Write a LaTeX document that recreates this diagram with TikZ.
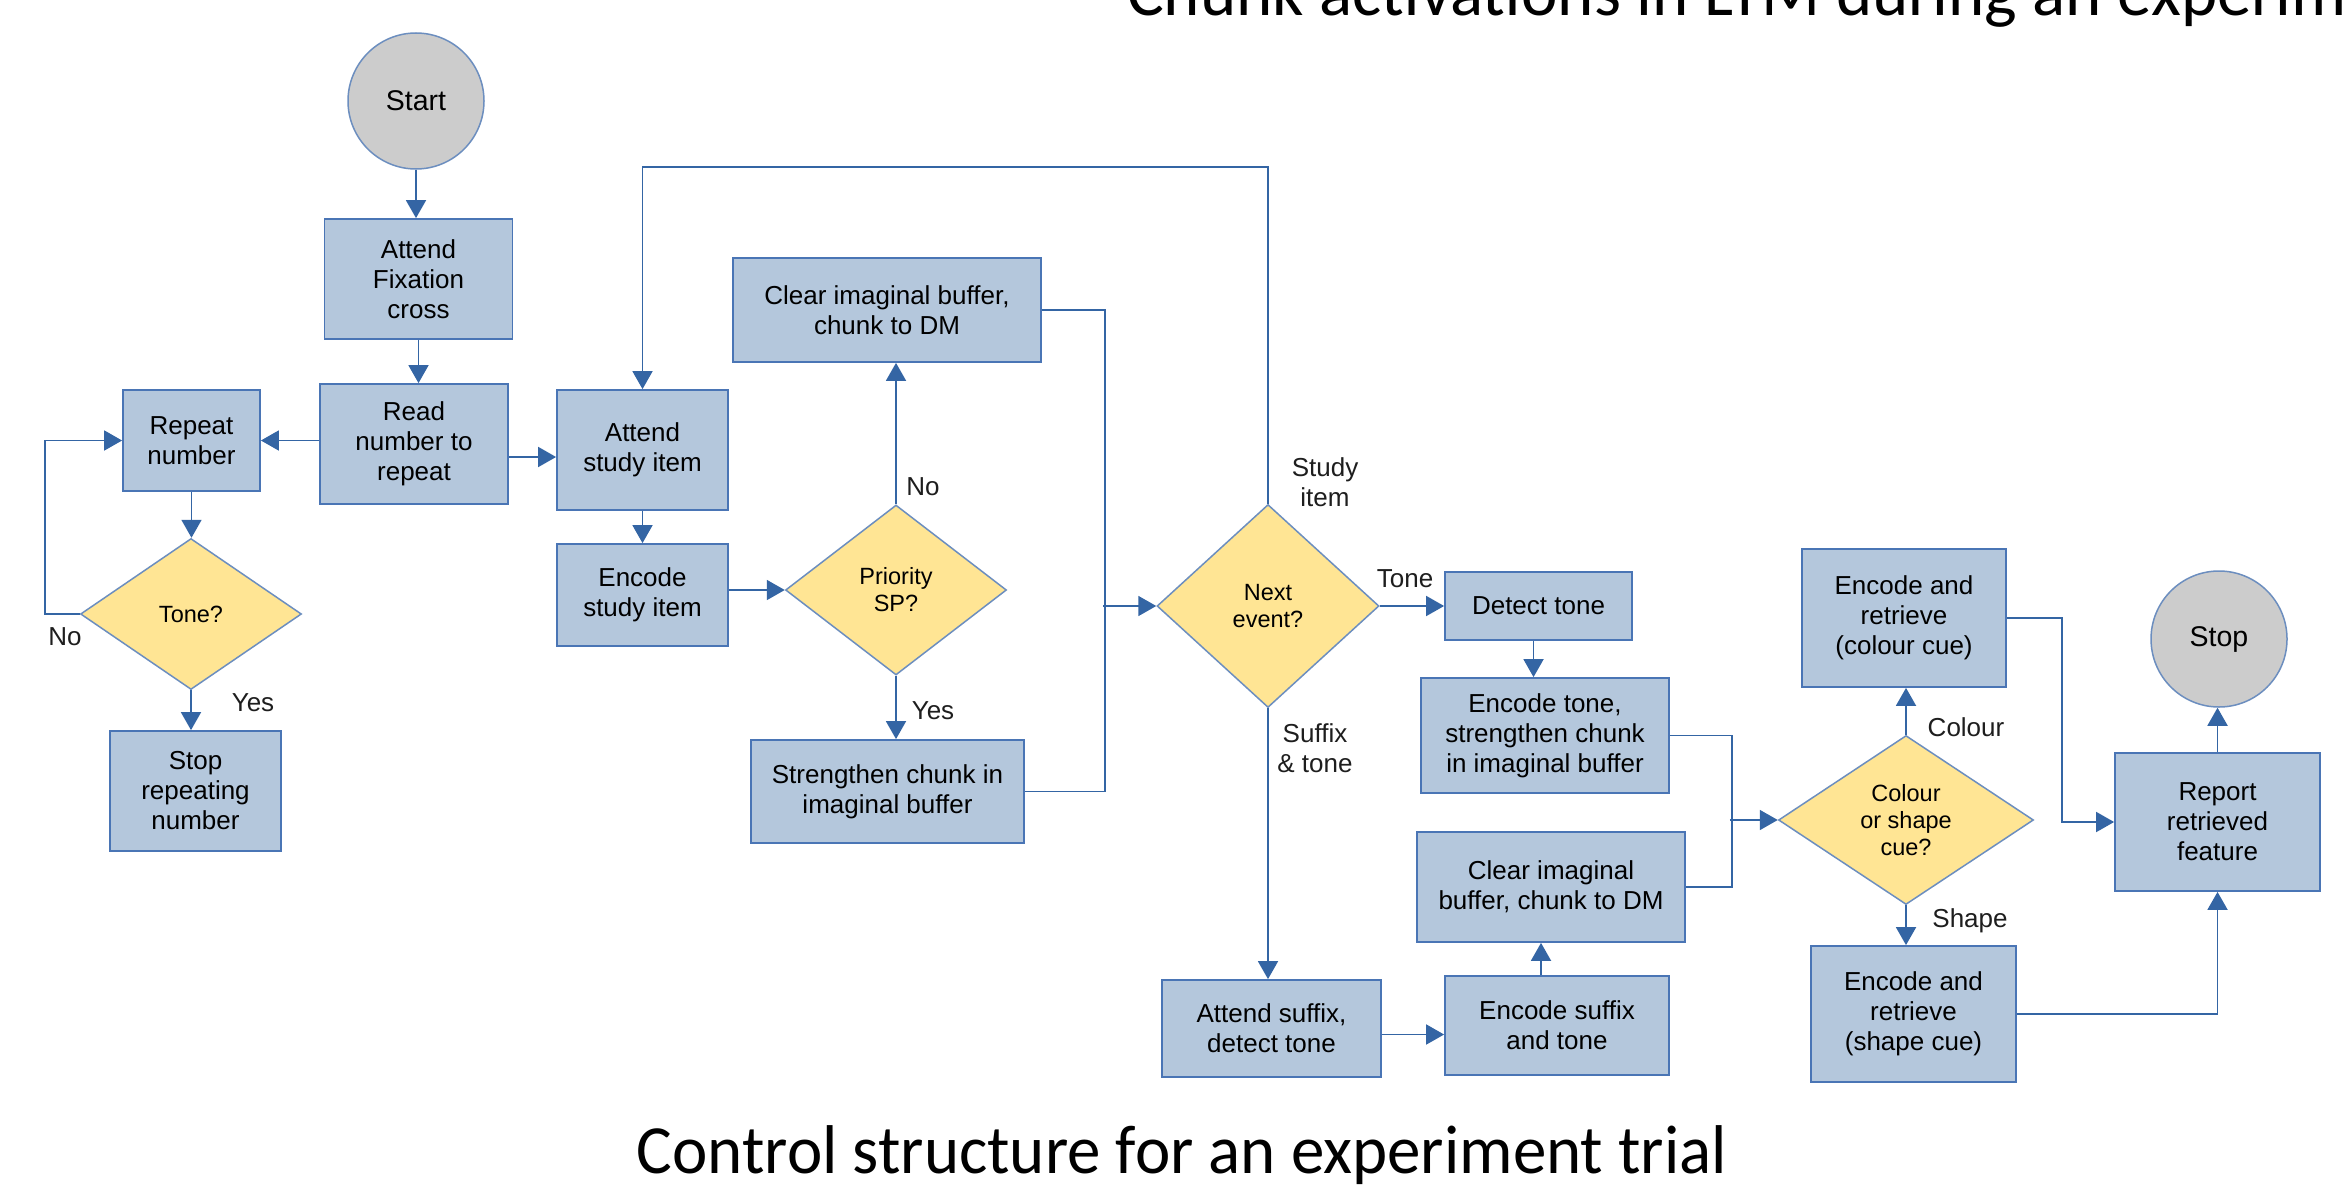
\documentclass[tikz,border=0pt]{standalone}
\usepackage{fontspec}
\setmainfont{Liberation Sans}
\newfontfamily\capfont{Carlito}
\usetikzlibrary{shapes.geometric,arrows.meta,calc}
\definecolor{boxfill}{RGB}{180,199,220}
\definecolor{boxline}{RGB}{74,117,181}
\definecolor{dfill}{RGB}{255,229,148}
\definecolor{dline}{RGB}{108,142,191}
\definecolor{cfill}{RGB}{204,204,204}
\definecolor{linkc}{RGB}{52,101,164}
\definecolor{lbl}{RGB}{30,30,30}
\begin{document}
\begin{tikzpicture}[x=1pt,y=-1pt,
 box/.style={draw=boxline,fill=boxfill,line width=1.8pt,rectangle,inner sep=0pt,align=center,font=\fontsize{26}{30}\selectfont},
 dec/.style={draw=dline,fill=dfill,line width=1.5pt,diamond,inner sep=0pt,align=center,font=\fontsize{23.5}{27}\selectfont},
 term/.style={draw=dline,fill=cfill,line width=1.5pt,circle,minimum size=136pt,inner sep=0pt,font=\fontsize{28.5}{32}\selectfont},
 link/.style={draw=linkc,line width=1.8pt},
 arr/.style={link,-{Triangle[length=18pt,width=20pt]}},
 lab/.style={font=\fontsize{26}{30}\selectfont,align=center,text=lbl,inner sep=0pt},
 ttl/.style={font=\capfont\fontsize{69}{69}\selectfont,inner sep=0pt}]
\clip (0,0) rectangle (2349,1188);
\fill[white] (0,0) rectangle (2349,1188);

% nodes
\node[term] (start) at (416,101) {Start};
\node[box,minimum width=188pt,minimum height=120pt] (fix) at (418.5,279) {Attend\\Fixation\\cross};
\node[box,minimum width=188pt,minimum height=120pt] (read) at (414,444) {Read\\number to\\repeat};
\node[box,minimum width=137pt,minimum height=101pt] (rep) at (191.5,440.5) {Repeat\\number};
\node[dec,minimum width=221pt,minimum height=151pt,aspect=1.46] (tone) at (191,614) {Tone?};
\node[box,minimum width=171pt,minimum height=120pt] (stoprep) at (195.5,791) {Stop\\repeating\\number};
\node[box,minimum width=171pt,minimum height=120pt] (att) at (642.5,450) {Attend\\study item};
\node[box,minimum width=171pt,minimum height=102pt] (enc) at (642.5,595) {Encode\\study item};
\node[dec,minimum width=221pt,minimum height=170pt,aspect=1.3] (prio) at (896,590) {Priority\\SP?};
\node[box,minimum width=308pt,minimum height=104pt] (clr1) at (887,310) {Clear imaginal buffer,\\chunk to DM};
\node[box,minimum width=273pt,minimum height=103pt] (str) at (887.5,791.5) {Strengthen chunk in\\imaginal buffer};
\node[dec,minimum width=222pt,minimum height=203pt,aspect=1.09] (next) at (1268,606) {Next\\event?};
\node[box,minimum width=187pt,minimum height=68pt] (det) at (1538.5,606) {Detect tone};
\node[box,minimum width=248pt,minimum height=115pt] (enct) at (1545,735.5) {Encode tone,\\strengthen chunk\\in imaginal buffer};
\node[box,minimum width=268pt,minimum height=110pt] (clr2) at (1551,887) {Clear imaginal\\buffer, chunk to DM};
\node[box,minimum width=224pt,minimum height=99pt] (encs) at (1557,1025.5) {Encode suffix\\and tone};
\node[box,minimum width=219pt,minimum height=97pt] (atts) at (1271.5,1028.5) {Attend suffix,\\detect tone};
\node[dec,minimum width=255pt,minimum height=169pt,aspect=1.5] (cq) at (1906,820) {Colour\\or shape\\cue?};
\node[box,minimum width=204pt,minimum height=138pt] (col) at (1904,618) {Encode and\\retrieve\\(colour cue)};
\node[box,minimum width=205pt,minimum height=136pt] (shp) at (1913.5,1014) {Encode and\\retrieve\\(shape cue)};
\node[box,minimum width=205pt,minimum height=138pt] (rpt) at (2217.5,822) {Report\\retrieved\\feature};
\node[term] (stop) at (2219,639) {Stop};

% labels
\node[lab] (lno1) at (65,637) {No};
\node[lab] (lyes1) at (253,703) {Yes};
\node[lab] (lno2) at (923,487) {No};
\node[lab] (lyes2) at (933,711) {Yes};
\node[lab] (lstudy) at (1325,482) {Study\\item};
\node[lab] (ltone) at (1405,579) {Tone};
\node[lab] (lsuf) at (1315,748) {Suffix\\\& tone};
\node[lab] (lcol) at (1966,727) {Colour};
\node[lab] (lshp) at (1970,921) {Shape};

% connectors
\draw[arr] (start.south) -- (start.south |- fix.north);
\draw[arr] (fix.south) -- (fix.south |- read.north);
\draw[arr] (read.west |- rep.east) -- (rep.east);
\path (read.east) ++(0,13) coordinate (r1);
\draw[arr] (r1) -- (att.west |- r1);
\draw[arr] (rep.south) -- (rep.south |- tone.north);
\draw[arr] (tone.south) -- (tone.south |- stoprep.north);
\draw[arr] (tone.west) -- ++(-35,0) |- (rep.west);
\draw[arr] (att.south) -- (att.south |- enc.north);
\draw[arr] (enc.east |- prio.west) -- (prio.west);
\draw[arr] (prio.north) -- (prio.north |- clr1.south);
\draw[arr] (prio.south) -- (prio.south |- str.north);
\draw[link] (clr1.east) -- ++(63,0) |- (str.east);
\path (next.west) ++(-53,0) coordinate (b1);
\draw[arr] (b1) -- (next.west);
\draw[arr] (next.north) -- ++(0,-337) -| (att.north);
\draw[arr] (next.east) -- (det.west);
\draw[arr] (next.south) -- (next.south |- atts.north);
\path (det.south) ++(-5,0) coordinate (d1);
\draw[arr] (d1) -- (d1 |- enct.north);
\path (atts.east) ++(0,6) coordinate (a1);
\draw[arr] (a1) -- (a1 -| encs.west);
\path (encs.north) ++(-16,0) coordinate (e1);
\draw[arr] (e1) -- (e1 |- clr2.south);
\draw[link] (enct.east) -- ++(62,0) |- (clr2.east);
\path (cq.west) ++(-48,0) coordinate (b2);
\draw[arr] (b2) -- (cq.west);
\draw[arr] (cq.north) -- (cq.north |- col.south);
\draw[arr] (cq.south) -- (cq.south |- shp.north);
\draw[arr] (col.east) -- ++(55,0) |- (rpt.west);
\draw[arr] (shp.east) -| (rpt.south);
\draw[arr] (rpt.north) -- (rpt.north |- stop.south);

% titles
\node[ttl,anchor=base] (cap) at (1182,1173) {\scalebox{0.97}[1]{Control structure for an experiment trial}};
\node[ttl,anchor=base west] (toptitle) at (1127,16) {Chunk activations in LTM during an experim};
\end{tikzpicture}
\end{document}
